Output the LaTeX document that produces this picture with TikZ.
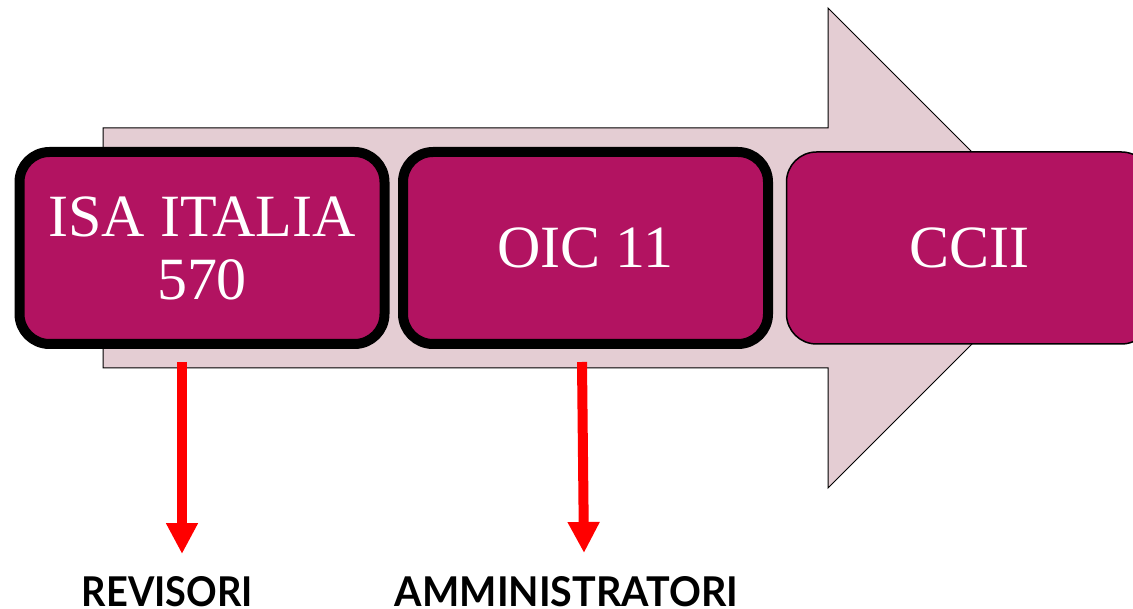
\documentclass[tikz,border=0pt]{standalone}
\usepackage{fontspec}
\setmainfont{Liberation Serif}
\newfontfamily\labfont{Lato}
\usepackage{graphicx}
\usetikzlibrary{arrows.meta}
\definecolor{boxfill}{HTML}{B21361}
\definecolor{arrowfill}{HTML}{E4CDD3}
\definecolor{redarr}{HTML}{FF0000}
\tikzset{
  bigarrow/.style={fill=arrowfill, draw=black, line width=1pt, line join=miter},
  stagebox/.style={rounded corners=30pt, fill=boxfill, draw=black, minimum width=365pt, minimum height=192pt,
    text=white, align=center, font=\fontsize{60}{63}\selectfont, inner sep=0pt},
  thickbox/.style={stagebox, line width=10pt},
  thinbox/.style={stagebox, line width=1.5pt},
  redconn/.style={draw=redarr, line width=10pt, -{Triangle[length=31pt,width=30pt]}},
  lab/.style={anchor=base, inner sep=0pt, font=\labfont\bfseries}
}
\begin{document}
\begin{tikzpicture}[x=1pt,y=-1pt]
\useasboundingbox (0,0) rectangle (1133,609);
% big background arrow
\draw[bigarrow] (103,128) -- (828,128) -- (828,8) -- (1068,248) -- (828,488) -- (828,368) -- (103,368) -- cycle;
% stage boxes
\node[thickbox] (b1) at (202,248) {ISA ITALIA\\570};
\node[thickbox] (b2) at (585.5,248) {OIC 11};
\node[thinbox] (b3) at (969,248) {CCII};
% labels
\node[lab] (rev) at (167.5,606) {\resizebox{171pt}{30pt}{REVISORI}};
\node[lab] (amm) at (566.5,606) {\resizebox{343pt}{30pt}{AMMINISTRATORI}};
% red arrows
\coordinate (s1) at (182,362);
\coordinate (t1) at (182,554);
\coordinate (s2) at (582,362);
\coordinate (t2) at (584,553);
\draw[redconn] (s1) -- (t1);
\draw[redconn] (s2) -- (t2);
\end{tikzpicture}
\end{document}
